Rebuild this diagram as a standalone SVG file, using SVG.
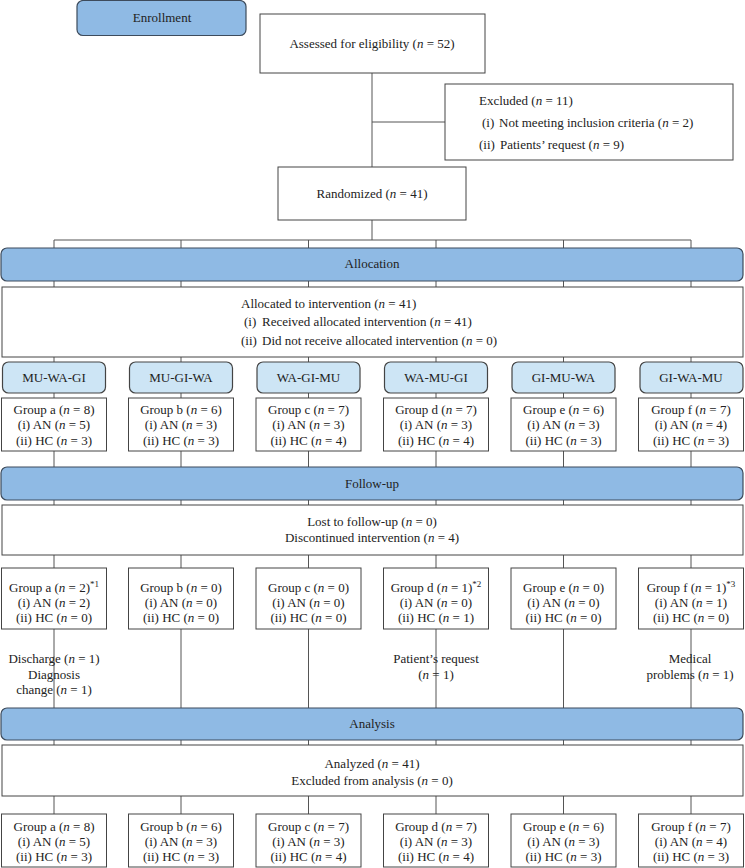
<svg xmlns="http://www.w3.org/2000/svg" width="745" height="868" viewBox="0 0 745 868">
<style>
text{font-family:"Liberation Serif","Times New Roman",serif;font-size:13px;fill:#222}
.c{text-anchor:middle}
.i{font-style:italic}
.sup{font-size:9px}
.box{fill:#fff;stroke:#444;stroke-width:1}
.bar{fill:#8fbae4;stroke:#3d4b5c;stroke-width:1.2}
.seq{fill:#cde5f5;stroke:#444;stroke-width:1.2}
.ln{stroke:#555;stroke-width:1;fill:none}
</style>
<g id="connectors">
<path class="ln" d="M372,73V167M372,122H445M372,220V240M54,240H691"/>
<path class="ln" d="M54,240V248M181,240V248M308.5,240V248M436,240V248M563.5,240V248M691,240V248"/>
<path class="ln" d="M54,281V287M181,281V287M308.5,281V287M436,281V287M563.5,281V287M691,281V287"/>
<path class="ln" d="M54,357V362M181,357V362M308.5,357V362M436,357V362M563.5,357V362M691,357V362"/>
<path class="ln" d="M54,393V398M181,393V398M308.5,393V398M436,393V398M563.5,393V398M691,393V398"/>
<path class="ln" d="M54,451V467M181,451V467M308.5,451V467M436,451V467M563.5,451V467M691,451V467"/>
<path class="ln" d="M54,500V505M181,500V505M308.5,500V505M436,500V505M563.5,500V505M691,500V505"/>
<path class="ln" d="M54,555V568M181,555V568M308.5,555V568M436,555V568M563.5,555V568M691,555V568"/>
<path class="ln" d="M54,629V708M181,629V708M308.5,629V708M436,629V708M563.5,629V708M691,629V708"/>
<path class="ln" d="M54,740V745M181,740V745M308.5,740V745M436,740V745M563.5,740V745M691,740V745"/>
<path class="ln" d="M54,796V814M181,796V814M308.5,796V814M436,796V814M563.5,796V814M691,796V814"/>
</g>
<g id="enrollment"><rect class="bar" x="77" y="0.5" width="169" height="35" rx="6"/><text class="c" x="162" y="21.5">Enrollment</text></g>
<g id="assessed"><rect class="box" x="260" y="14" width="225" height="59"/><text class="c" x="372" y="47.5">Assessed for eligibility (<tspan class="i">n</tspan> = 52)</text></g>
<g id="excluded"><rect class="box" x="445" y="84" width="288" height="76"/>
<text x="479" y="104.5">Excluded (<tspan class="i">n</tspan> = 11)</text>
<text x="482" y="126.5">(i)<tspan x="499">Not meeting inclusion criteria (<tspan class="i">n</tspan> = 2)</tspan></text>
<text x="479" y="148.5">(ii)<tspan x="500">Patients’ request (<tspan class="i">n</tspan> = 9)</tspan></text></g>
<g id="randomized"><rect class="box" x="278" y="167" width="188" height="53"/><text class="c" x="372" y="197.5">Randomized (<tspan class="i">n</tspan> = 41)</text></g>
<g id="allocation"><rect class="bar" x="1" y="248" width="742" height="33" rx="6"/><text class="c" x="372" y="267.5">Allocation</text></g>
<g id="allocated"><rect class="box" x="2" y="287" width="741" height="70"/>
<text x="241" y="307.5">Allocated to intervention (<tspan class="i">n</tspan> = 41)</text>
<text x="244" y="325.5">(i)<tspan x="262">Received allocated intervention (<tspan class="i">n</tspan> = 41)</tspan></text>
<text x="241" y="344.5">(ii)<tspan x="262">Did not receive allocated intervention (<tspan class="i">n</tspan> = 0)</tspan></text></g>
<g id="seq-a"><rect class="seq" x="2.5" y="362" width="103" height="31" rx="6"/><text class="c" x="54" y="382">MU-WA-GI</text></g>
<g id="seq-b"><rect class="seq" x="129.5" y="362" width="103" height="31" rx="6"/><text class="c" x="181" y="382">MU-GI-WA</text></g>
<g id="seq-c"><rect class="seq" x="257" y="362" width="103" height="31" rx="6"/><text class="c" x="308.5" y="382">WA-GI-MU</text></g>
<g id="seq-d"><rect class="seq" x="384.5" y="362" width="103" height="31" rx="6"/><text class="c" x="436" y="382">WA-MU-GI</text></g>
<g id="seq-e"><rect class="seq" x="512" y="362" width="103" height="31" rx="6"/><text class="c" x="563.5" y="382">GI-MU-WA</text></g>
<g id="seq-f"><rect class="seq" x="640" y="362" width="103" height="31" rx="6"/><text class="c" x="691" y="382">GI-WA-MU</text></g>
<g id="alloc-a"><rect class="box" x="1.5" y="398" width="105" height="53"/><text class="c" x="54" y="413.5">Group a (<tspan class="i">n</tspan> = 8)</text><text class="c" x="54" y="428.5">(i) AN (<tspan class="i">n</tspan> = 5)</text><text class="c" x="54" y="444.5">(ii) HC (<tspan class="i">n</tspan> = 3)</text></g>
<g id="alloc-b"><rect class="box" x="128.5" y="398" width="105" height="53"/><text class="c" x="181" y="413.5">Group b (<tspan class="i">n</tspan> = 6)</text><text class="c" x="181" y="428.5">(i) AN (<tspan class="i">n</tspan> = 3)</text><text class="c" x="181" y="444.5">(ii) HC (<tspan class="i">n</tspan> = 3)</text></g>
<g id="alloc-c"><rect class="box" x="256" y="398" width="105" height="53"/><text class="c" x="308.5" y="413.5">Group c (<tspan class="i">n</tspan> = 7)</text><text class="c" x="308.5" y="428.5">(i) AN (<tspan class="i">n</tspan> = 3)</text><text class="c" x="308.5" y="444.5">(ii) HC (<tspan class="i">n</tspan> = 4)</text></g>
<g id="alloc-d"><rect class="box" x="383.5" y="398" width="105" height="53"/><text class="c" x="436" y="413.5">Group d (<tspan class="i">n</tspan> = 7)</text><text class="c" x="436" y="428.5">(i) AN (<tspan class="i">n</tspan> = 3)</text><text class="c" x="436" y="444.5">(ii) HC (<tspan class="i">n</tspan> = 4)</text></g>
<g id="alloc-e"><rect class="box" x="511" y="398" width="105" height="53"/><text class="c" x="563.5" y="413.5">Group e (<tspan class="i">n</tspan> = 6)</text><text class="c" x="563.5" y="428.5">(i) AN (<tspan class="i">n</tspan> = 3)</text><text class="c" x="563.5" y="444.5">(ii) HC (<tspan class="i">n</tspan> = 3)</text></g>
<g id="alloc-f"><rect class="box" x="638.5" y="398" width="105" height="53"/><text class="c" x="691" y="413.5">Group f (<tspan class="i">n</tspan> = 7)</text><text class="c" x="691" y="428.5">(i) AN (<tspan class="i">n</tspan> = 4)</text><text class="c" x="691" y="444.5">(ii) HC (<tspan class="i">n</tspan> = 3)</text></g>
<g id="followup"><rect class="bar" x="1" y="467" width="742" height="33" rx="6"/><text class="c" x="372" y="488">Follow-up</text></g>
<g id="lost"><rect class="box" x="2" y="505" width="741" height="50"/>
<text class="c" x="372" y="525.5">Lost to follow-up (<tspan class="i">n</tspan> = 0)</text>
<text class="c" x="372" y="541.5">Discontinued intervention (<tspan class="i">n</tspan> = 4)</text></g>
<g id="fu-a"><rect class="box" x="1.5" y="568" width="105" height="61"/><text class="c" x="54" y="591.5">Group a (<tspan class="i">n</tspan> = 2)<tspan class="sup" dy="-5">*1</tspan></text><text class="c" x="54" y="606.5">(i) AN (<tspan class="i">n</tspan> = 2)</text><text class="c" x="54" y="621.5">(ii) HC (<tspan class="i">n</tspan> = 0)</text></g>
<g id="fu-b"><rect class="box" x="128.5" y="568" width="105" height="61"/><text class="c" x="181" y="591.5">Group b (<tspan class="i">n</tspan> = 0)</text><text class="c" x="181" y="606.5">(i) AN (<tspan class="i">n</tspan> = 0)</text><text class="c" x="181" y="621.5">(ii) HC (<tspan class="i">n</tspan> = 0)</text></g>
<g id="fu-c"><rect class="box" x="256" y="568" width="105" height="61"/><text class="c" x="308.5" y="591.5">Group c (<tspan class="i">n</tspan> = 0)</text><text class="c" x="308.5" y="606.5">(i) AN (<tspan class="i">n</tspan> = 0)</text><text class="c" x="308.5" y="621.5">(ii) HC (<tspan class="i">n</tspan> = 0)</text></g>
<g id="fu-d"><rect class="box" x="383.5" y="568" width="105" height="61"/><text class="c" x="436" y="591.5">Group d (<tspan class="i">n</tspan> = 1)<tspan class="sup" dy="-5">*2</tspan></text><text class="c" x="436" y="606.5">(i) AN (<tspan class="i">n</tspan> = 0)</text><text class="c" x="436" y="621.5">(ii) HC (<tspan class="i">n</tspan> = 1)</text></g>
<g id="fu-e"><rect class="box" x="511" y="568" width="105" height="61"/><text class="c" x="563.5" y="591.5">Group e (<tspan class="i">n</tspan> = 0)</text><text class="c" x="563.5" y="606.5">(i) AN (<tspan class="i">n</tspan> = 0)</text><text class="c" x="563.5" y="621.5">(ii) HC (<tspan class="i">n</tspan> = 0)</text></g>
<g id="fu-f"><rect class="box" x="638.5" y="568" width="105" height="61"/><text class="c" x="691" y="591.5">Group f (<tspan class="i">n</tspan> = 1)<tspan class="sup" dy="-5">*3</tspan></text><text class="c" x="691" y="606.5">(i) AN (<tspan class="i">n</tspan> = 1)</text><text class="c" x="691" y="621.5">(ii) HC (<tspan class="i">n</tspan> = 0)</text></g>
<g id="note-a"><text class="c" x="54" y="662.5">Discharge (<tspan class="i">n</tspan> = 1)</text><text class="c" x="54" y="678.5">Diagnosis</text><text class="c" x="54" y="693.5">change (<tspan class="i">n</tspan> = 1)</text></g>
<g id="note-d"><text class="c" x="436" y="662.5">Patient’s request</text><text class="c" x="436" y="678.5">(<tspan class="i">n</tspan> = 1)</text></g>
<g id="note-f"><text class="c" x="690" y="662.5">Medical</text><text class="c" x="690" y="678.5">problems (<tspan class="i">n</tspan> = 1)</text></g>
<g id="analysis"><rect class="bar" x="1" y="708" width="742" height="32" rx="6"/><text class="c" x="372" y="727.5">Analysis</text></g>
<g id="analyzed"><rect class="box" x="2" y="745" width="741" height="51"/>
<text class="c" x="372" y="767.5">Analyzed (<tspan class="i">n</tspan> = 41)</text>
<text class="c" x="372" y="784.5">Excluded from analysis (<tspan class="i">n</tspan> = 0)</text></g>
<g id="an-a"><rect class="box" x="1.5" y="814" width="105" height="53"/><text class="c" x="54" y="830.5">Group a (<tspan class="i">n</tspan> = 8)</text><text class="c" x="54" y="845.5">(i) AN (<tspan class="i">n</tspan> = 5)</text><text class="c" x="54" y="860.5">(ii) HC (<tspan class="i">n</tspan> = 3)</text></g>
<g id="an-b"><rect class="box" x="128.5" y="814" width="105" height="53"/><text class="c" x="181" y="830.5">Group b (<tspan class="i">n</tspan> = 6)</text><text class="c" x="181" y="845.5">(i) AN (<tspan class="i">n</tspan> = 3)</text><text class="c" x="181" y="860.5">(ii) HC (<tspan class="i">n</tspan> = 3)</text></g>
<g id="an-c"><rect class="box" x="256" y="814" width="105" height="53"/><text class="c" x="308.5" y="830.5">Group c (<tspan class="i">n</tspan> = 7)</text><text class="c" x="308.5" y="845.5">(i) AN (<tspan class="i">n</tspan> = 3)</text><text class="c" x="308.5" y="860.5">(ii) HC (<tspan class="i">n</tspan> = 4)</text></g>
<g id="an-d"><rect class="box" x="383.5" y="814" width="105" height="53"/><text class="c" x="436" y="830.5">Group d (<tspan class="i">n</tspan> = 7)</text><text class="c" x="436" y="845.5">(i) AN (<tspan class="i">n</tspan> = 3)</text><text class="c" x="436" y="860.5">(ii) HC (<tspan class="i">n</tspan> = 4)</text></g>
<g id="an-e"><rect class="box" x="511" y="814" width="105" height="53"/><text class="c" x="563.5" y="830.5">Group e (<tspan class="i">n</tspan> = 6)</text><text class="c" x="563.5" y="845.5">(i) AN (<tspan class="i">n</tspan> = 3)</text><text class="c" x="563.5" y="860.5">(ii) HC (<tspan class="i">n</tspan> = 3)</text></g>
<g id="an-f"><rect class="box" x="638.5" y="814" width="105" height="53"/><text class="c" x="691" y="830.5">Group f (<tspan class="i">n</tspan> = 7)</text><text class="c" x="691" y="845.5">(i) AN (<tspan class="i">n</tspan> = 4)</text><text class="c" x="691" y="860.5">(ii) HC (<tspan class="i">n</tspan> = 3)</text></g>
</svg>
